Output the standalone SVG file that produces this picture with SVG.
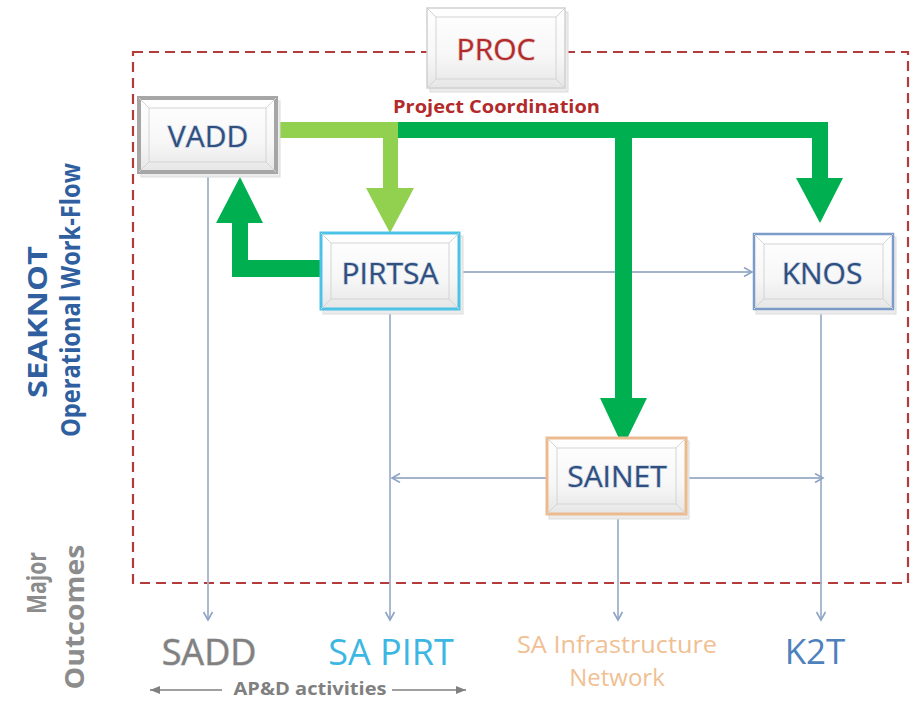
<svg xmlns="http://www.w3.org/2000/svg" width="917" height="701" viewBox="0 0 917 701">
<defs>
<linearGradient id="bfill" x1="0" y1="0" x2="0" y2="1">
<stop offset="0" stop-color="#ffffff"/>
<stop offset="0.6" stop-color="#f7f7f7"/>
<stop offset="1" stop-color="#e6e6e6"/>
</linearGradient>
<marker id="thin" markerUnits="userSpaceOnUse" markerWidth="12" markerHeight="12" refX="9" refY="5" orient="auto">
<path d="M1,0.5 L9,5 L1,9.5" fill="none" stroke="#8ea4c6" stroke-width="1.6"/>
</marker>
<marker id="grey" markerUnits="userSpaceOnUse" markerWidth="12" markerHeight="10" refX="10" refY="4" orient="auto">
<path d="M0,0 L10,4 L0,8 Z" fill="#808080"/>
</marker>
</defs>
<style>
.shadow{fill:#ececec;stroke:#dcdcdc;stroke-width:1}
.box{fill:url(#bfill)}
.bevel{fill:none;stroke:#d4d4d4;stroke-width:1}
.lbl{font-family:"Open Sans","Liberation Sans",sans-serif;font-size:30px;fill:#2f4f7f;text-anchor:middle;stroke:#c9d2e3;stroke-width:1.5;paint-order:stroke}
.thinline{fill:none;stroke:#a3b3cc;stroke-width:1.8}
.out{font-family:"Open Sans","Liberation Sans",sans-serif;text-anchor:middle}
.side{font-family:"Open Sans","Liberation Sans",sans-serif;font-weight:bold;text-anchor:middle}
</style>
<rect x="0" y="0" width="917" height="701" fill="#ffffff"/>

<!-- dashed boundary -->
<rect id="boundary" x="133" y="52" width="775" height="531" fill="none" stroke="#b23b3b" stroke-width="2.2" stroke-dasharray="10,6"/>

<!-- side labels -->
<g id="side-labels">
<text class="side" transform="translate(47,322) rotate(-90)" font-size="26" fill="#2f5f9f" textLength="152" lengthAdjust="spacingAndGlyphs">SEAKNOT</text>
<text class="side" transform="translate(80,300) rotate(-90)" font-size="26" fill="#2f5f9f" textLength="274" lengthAdjust="spacingAndGlyphs">Operational Work-Flow</text>
<text class="side" transform="translate(46,583) rotate(-90)" font-size="27" fill="#8c8c8c" textLength="62" lengthAdjust="spacingAndGlyphs">Major</text>
<text class="side" transform="translate(84,617) rotate(-90)" font-size="27" fill="#8c8c8c" textLength="145" lengthAdjust="spacingAndGlyphs">Outcomes</text>
</g>

<!-- connectors -->
<g id="connectors">
<path class="thinline" d="M208,173 V620" marker-end="url(#thin)"/>
<path class="thinline" d="M390,310 V620" marker-end="url(#thin)"/>
<path class="thinline" d="M618,515 V620" marker-end="url(#thin)"/>
<path class="thinline" d="M821,310 V620" marker-end="url(#thin)"/>
<path class="thinline" d="M460,272 H752" marker-end="url(#thin)"/>
<path class="thinline" d="M546,478 H392" marker-end="url(#thin)"/>
<path class="thinline" d="M687,478 H823" marker-end="url(#thin)"/>
<!-- thick green arrows -->
<polygon fill="#92d050" points="277,122 398,122 398,188 414,188 390,233 366,188 383,188 383,138 277,138"/>
<polygon fill="#00b050" points="398,122 828,122 828,178 843,178 820,223 796,178 812,178 812,138 632,138 632,398 647,398 623,447 600,398 615,398 615,138 398,138"/>
<polygon fill="#00b050" points="330,260 248,260 248,223 263,223 240,177 216,223 232,223 232,277 330,277"/>
<!-- AP&D arrows -->
<path d="M222,690 H150" stroke="#808080" stroke-width="1.6" marker-end="url(#grey)"/>
<path d="M392,690 H466" stroke="#808080" stroke-width="1.6" marker-end="url(#grey)"/>
</g>

<!-- PROC -->
<g id="PROC">
<rect class="shadow" x="430" y="12" width="138" height="80"/>
<rect class="box" x="427" y="8" width="138" height="80" stroke="#d0d0d0" stroke-width="1.5"/>
<path class="bevel" d="M436,17 H556 V79 H436 Z M427,8 L436,17 M565,8 L556,17 M427,88 L436,79 M565,88 L556,79"/>
<text class="lbl" x="496" y="60" style="fill:#b22a2a;stroke:#e6c8c8">PROC</text>
</g>
<text id="proj-coord" x="393" y="113" font-family="'Open Sans','Liberation Sans',sans-serif" font-weight="bold" font-size="17" fill="#b22a2a" textLength="207" lengthAdjust="spacingAndGlyphs">Project Coordination</text>

<!-- VADD -->
<g id="VADD">
<rect class="shadow" x="141" y="101" width="139" height="76"/>
<rect class="box" x="139" y="98" width="137" height="74" stroke="#a6a6a6" stroke-width="4"/>
<path class="bevel" d="M149,108 H266 V162 H149 Z M139,98 L149,108 M276,98 L266,108 M139,172 L149,162 M276,172 L266,162"/>
<text class="lbl" x="208" y="147">VADD</text>
</g>

<!-- PIRTSA -->
<g id="PIRTSA">
<rect class="shadow" x="323" y="236" width="140" height="78"/>
<rect class="box" x="321" y="233" width="138" height="76" stroke="#4cc3e6" stroke-width="3"/>
<path class="bevel" d="M331,243 H449 V299 H331 Z M321,233 L331,243 M459,233 L449,243 M321,309 L331,299 M459,309 L449,299"/>
<text class="lbl" x="390" y="284">PIRTSA</text>
</g>

<!-- KNOS -->
<g id="KNOS">
<rect class="shadow" x="756" y="237" width="140" height="77"/>
<rect class="box" x="754" y="234" width="139" height="75" stroke="#7b9cc9" stroke-width="2.5"/>
<path class="bevel" d="M764,244 H883 V299 H764 Z M754,234 L764,244 M893,234 L883,244 M754,309 L764,299 M893,309 L883,299"/>
<text class="lbl" x="822" y="284">KNOS</text>
</g>

<!-- SAINET -->
<g id="SAINET">
<rect class="shadow" x="549" y="441" width="140" height="78"/>
<rect class="box" x="547" y="438" width="139" height="76" stroke="#ebbb8f" stroke-width="3"/>
<path class="bevel" d="M557,448 H676 V504 H557 Z M547,438 L557,448 M686,438 L676,448 M547,514 L557,504 M686,514 L676,504"/>
<text class="lbl" x="617" y="487">SAINET</text>
</g>

<!-- outcomes -->
<g id="outcomes">
<text class="out" x="209" y="665" font-size="36" fill="#808080" stroke="#c0c0c0" stroke-width="1" paint-order="stroke">SADD</text>
<text class="out" x="391" y="665" font-size="36" fill="#3cb6e2">SA PIRT</text>
<text class="out" x="617" y="653" font-size="24" fill="#f0bf94" textLength="200" lengthAdjust="spacingAndGlyphs">SA Infrastructure</text>
<text class="out" x="617" y="686" font-size="24" fill="#f0bf94">Network</text>
<text class="out" x="815" y="664" font-size="35" fill="#4f81bd">K2T</text>
<text class="out" x="310" y="695" font-size="18" font-weight="bold" fill="#808080" textLength="153" lengthAdjust="spacingAndGlyphs">AP&amp;D activities</text>
</g>
</svg>
